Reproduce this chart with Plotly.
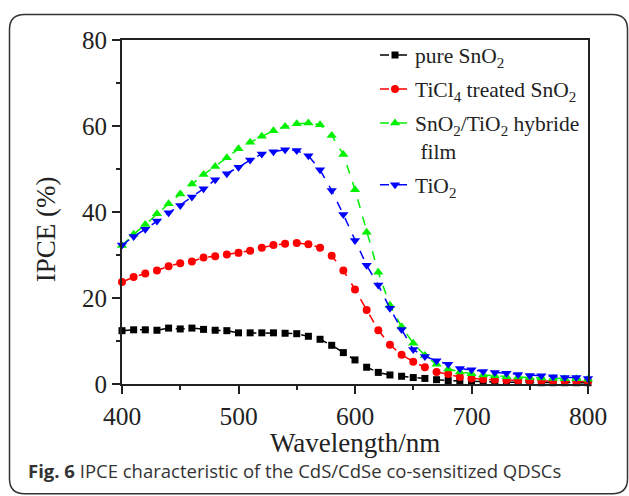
import plotly.graph_objects as go

# IPCE spectra of the four photoanodes (wavelength in nm, IPCE in %)
wavelength = [400, 410, 420, 430, 440, 450, 460, 470, 480, 490,
              500, 510, 520, 530, 540, 550, 560, 570, 580, 590,
              600, 610, 620, 630, 640, 650, 660, 670, 680, 690,
              700, 710, 720, 730, 740, 750, 760, 770, 780, 790, 800]

pure_sno2 = [12.4, 12.6, 12.6, 12.5, 13.0, 12.8, 13.0, 12.7, 12.5, 12.4,
             11.9, 11.9, 11.9, 11.9, 11.8, 11.7, 11.1, 10.4, 9.0, 7.3,
             5.6, 3.9, 2.7, 2.1, 1.8, 1.5, 1.3, 1.0, 0.8, 0.7,
             0.6, 0.5, 0.5, 0.4, 0.4, 0.4, 0.3, 0.3, 0.3, 0.3, 0.3]

ticl4_sno2 = [23.7, 24.9, 25.7, 26.4, 27.4, 28.1, 28.5, 29.4, 29.7, 30.1,
              30.5, 31.0, 31.7, 32.3, 32.6, 32.8, 32.5, 31.7, 29.8, 26.4,
              22.0, 17.2, 12.5, 9.1, 6.8, 5.2, 3.9, 2.8, 2.3, 1.6,
              1.3, 1.1, 1.0, 0.9, 0.8, 0.8, 0.7, 0.7, 0.6, 0.6, 0.6]

hybrid_film = [32.2, 34.8, 37.1, 39.6, 41.9, 44.2, 46.5, 48.7, 50.6, 52.6,
               54.7, 56.2, 57.6, 58.9, 59.9, 60.5, 60.7, 60.3, 57.8, 53.4,
               45.2, 35.3, 26.0, 18.3, 13.3, 9.5, 6.6, 4.6, 3.5, 2.8,
               2.4, 2.1, 1.9, 1.7, 1.6, 1.5, 1.4, 1.3, 1.2, 1.2, 1.1]

tio2 = [32.3, 34.3, 36.0, 37.9, 39.8, 41.5, 43.5, 45.4, 47.5, 48.9,
        50.4, 52.1, 53.5, 54.0, 54.5, 54.3, 53.1, 49.8, 45.0, 39.4,
        33.4, 27.6, 23.0, 17.6, 12.7, 8.0, 6.4, 5.4, 4.6, 3.6,
        3.3, 2.9, 2.7, 2.5, 2.2, 2.0, 1.9, 1.7, 1.5, 1.5, 1.3]

series_names = ["pure SnO<sub>2</sub>",
                "TiCl<sub>4</sub> treated SnO<sub>2</sub>",
                "SnO<sub>2</sub>/TiO<sub>2</sub> hybride<br>&nbsp;film",
                "TiO<sub>2</sub>"]

W, H = 629, 496
L, R, T, B = 122, 588, 39.5, 384  # plot area in pixels

def px(x):
    return (x - L) / (R - L)

def py(y):
    return (B - y) / (B - T)

fig = go.Figure()

styles = [
    (pure_sno2, "#000000", "square", 7),
    (ticl4_sno2, "#ff0000", "circle", 8),
    (hybrid_film, "#00f000", "triangle-up", 9),
    (tio2, "#0000ff", "triangle-down", 9),
]
for i, ((vals, color, sym, size), name) in enumerate(zip(styles, series_names)):
    fig.add_trace(go.Scatter(
        x=wavelength, y=vals, name=name, mode="lines+markers",
        legendgroup=f"g{i}",
        line=dict(color=color, width=1.5, dash="dash"),
        marker=dict(color=color, symbol=sym, size=size, line=dict(width=0)),
        cliponaxis=False,
    ))

ink = "#222222"
serif = "Liberation Serif"

fig.update_xaxes(
    range=[400, 800], dtick=100, tick0=400,
    ticks="outside", ticklen=8, tickwidth=1.5, tickcolor=ink,
    minor=dict(ticks="outside", ticklen=4, dtick=50, tickwidth=1.5, tickcolor=ink),
    showline=True, linecolor=ink, linewidth=2, mirror=True,
    showgrid=False, zeroline=False,
    tickfont=dict(family=serif, size=25.5, color=ink),
)
fig.update_yaxes(
    range=[0, 80], dtick=20, tick0=0,
    ticks="outside", ticklen=8, tickwidth=1.5, tickcolor=ink,
    minor=dict(ticks="outside", ticklen=4, dtick=10, tickwidth=1.5, tickcolor=ink),
    showline=True, linecolor=ink, linewidth=2, mirror=True,
    showgrid=False, zeroline=False,
    tickfont=dict(family=serif, size=25, color=ink),
)

# axis titles
fig.add_annotation(
    x=px(355), y=py(443), xref="paper", yref="paper",
    xanchor="center", yanchor="middle", showarrow=False,
    text="Wavelength/nm", font=dict(family=serif, size=27, color=ink),
)
fig.add_annotation(
    x=px(46), y=py(229), xref="paper", yref="paper",
    xanchor="center", yanchor="middle", showarrow=False, textangle=-90,
    text="IPCE (%)", font=dict(family=serif, size=27, color=ink),
)

# rounded frame around the whole figure
x0, x1, y0, y1, r = 9.5, 627.5, 14, 494, 15
rx, ry = r / (R - L), r / (B - T)
X0, X1, Y0, Y1 = px(x0), px(x1), py(y0), py(y1)
path = (f"M {X0 + rx},{Y0} L {X1 - rx},{Y0} Q {X1},{Y0} {X1},{Y0 - ry} "
        f"L {X1},{Y1 + ry} Q {X1},{Y1} {X1 - rx},{Y1} "
        f"L {X0 + rx},{Y1} Q {X0},{Y1} {X0},{Y1 + ry} "
        f"L {X0},{Y0 - ry} Q {X0},{Y0} {X0 + rx},{Y0} Z")
fig.add_shape(type="path", path=path, xref="paper", yref="paper",
              line=dict(color="#333333", width=1.5), layer="above")

fig.add_annotation(
    x=px(26), y=py(471), xref="paper", yref="paper",
    xanchor="left", yanchor="middle", showarrow=False,
    text="<b>Fig. 6</b> IPCE characteristic of the CdS/CdSe co-sensitized QDSCs",
    font=dict(family="Open Sans", size=18.5, color="#333333"),
)

fig.update_layout(
    width=W, height=H,
    margin=dict(l=L, r=W - R, t=T, b=H - B, autoexpand=False),
    paper_bgcolor="white", plot_bgcolor="white",
    showlegend=True,
    legend=dict(
        x=px(375), y=py(34), xanchor="left", yanchor="top",
        bgcolor="rgba(0,0,0,0)", borderwidth=0,
        font=dict(family=serif, size=21.5, color=ink),
        valign="top", itemwidth=30, tracegroupgap=3,
    ),
)

fig.write_html("out.html")
